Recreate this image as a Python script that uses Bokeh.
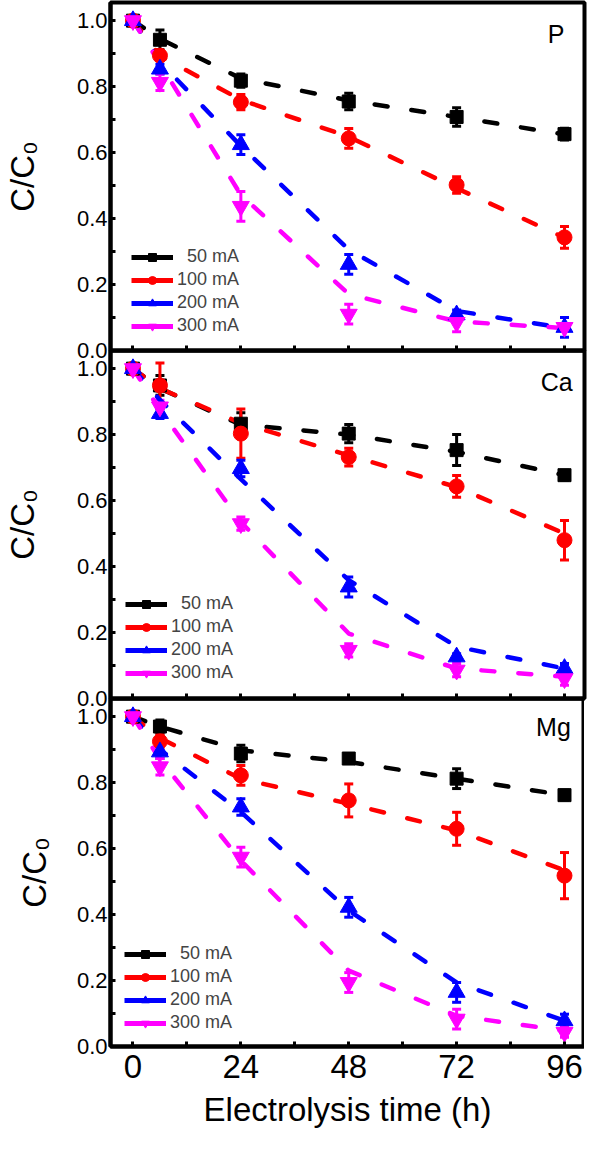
from bokeh.plotting import figure
from bokeh.models import (ColumnDataSource, FixedTicker, NumeralTickFormatter, Whisker,
                          TeeHead, Legend, LegendItem, Label, Range1d)
from bokeh.layouts import column
from bokeh.embed import file_html
from bokeh.resources import INLINE

FONT = "Liberation Sans"

hours = [0, 6, 24, 48, 72, 96]
currents = ["\u00a0\u00a050 mA", "100 mA", "200 mA", "300 mA"]
colors = ["#000000", "#ff0000", "#0000ff", "#ff00ff"]
markers = ["square", "circle", "triangle", "inverted_triangle"]
marker_sizes = [13, 15, 17, 17]
x_ticks = [0, 24, 48, 72, 96]
x_minor = [12, 36, 60, 84]
y_ticks = [0.0, 0.2, 0.4, 0.6, 0.8, 1.0]
y_minor = [0.1, 0.3, 0.5, 0.7, 0.9]

# ---- P ----
p_50 = [1.0, 0.942, 0.818, 0.755, 0.708, 0.656]
p_50_err = [0.0, 0.03, 0.02, 0.025, 0.028, 0.018]
p_50_fit = [1.0, 0.945, 0.825, 0.758, 0.708, 0.655]
p_100 = [1.0, 0.894, 0.753, 0.643, 0.502, 0.343]
p_100_err = [0.0, 0.015, 0.023, 0.03, 0.025, 0.033]
p_100_fit = [1.0, 0.893, 0.76, 0.648, 0.492, 0.342]
p_200 = [1.0, 0.853, 0.624, 0.261, 0.108, 0.07]
p_200_err = [0.0, 0.015, 0.03, 0.03, 0.015, 0.03]
p_200_fit = [1.0, 0.875, 0.62, 0.306, 0.12, 0.068]
p_300 = [1.0, 0.813, 0.437, 0.11, 0.085, 0.07]
p_300_err = [0.0, 0.025, 0.045, 0.03, 0.028, 0.01]
p_300_fit = [1.0, 0.87, 0.472, 0.171, 0.088, 0.068]

# ---- Ca ----
ca_50 = [1.0, 0.949, 0.833, 0.803, 0.753, 0.677]
ca_50_err = [0.0, 0.03, 0.033, 0.028, 0.047, 0.015]
ca_50_fit = [1.0, 0.94, 0.83, 0.8, 0.748, 0.677]
ca_100 = [1.0, 0.949, 0.803, 0.732, 0.643, 0.48]
ca_100_err = [0.0, 0.068, 0.075, 0.027, 0.033, 0.06]
ca_100_fit = [1.0, 0.94, 0.835, 0.737, 0.641, 0.5]
ca_200 = [1.0, 0.864, 0.697, 0.338, 0.126, 0.091]
ca_200_err = [0.0, 0.015, 0.025, 0.03, 0.01, 0.015]
ca_200_fit = [1.0, 0.905, 0.665, 0.359, 0.157, 0.091]
ca_300 = [1.0, 0.884, 0.53, 0.146, 0.086, 0.06]
ca_300_err = [0.0, 0.02, 0.02, 0.02, 0.02, 0.02]
ca_300_fit = [1.0, 0.875, 0.535, 0.197, 0.091, 0.066]

# ---- Mg ----
mg_50 = [1.0, 0.97, 0.888, 0.873, 0.812, 0.762]
mg_50_err = [0.0, 0.02, 0.025, 0.015, 0.03, 0.015]
mg_50_fit = [1.0, 0.97, 0.898, 0.863, 0.812, 0.762]
mg_100 = [1.0, 0.925, 0.822, 0.746, 0.66, 0.518]
mg_100_err = [0.0, 0.02, 0.03, 0.05, 0.05, 0.07]
mg_100_fit = [1.0, 0.935, 0.812, 0.736, 0.655, 0.534]
mg_200 = [1.0, 0.893, 0.726, 0.422, 0.164, 0.078]
mg_200_err = [0.0, 0.02, 0.025, 0.03, 0.03, 0.02]
mg_200_fit = [1.0, 0.9, 0.711, 0.412, 0.194, 0.078]
mg_300 = [1.0, 0.848, 0.574, 0.194, 0.083, 0.043]
mg_300_err = [0.0, 0.025, 0.03, 0.03, 0.03, 0.015]
mg_300_fit = [1.0, 0.87, 0.564, 0.23, 0.093, 0.048]

NAN = float("nan")
OVERLAP = 12


def make_panel(letter, means, errs, fits, bottom, first, legend_xy,
               ylab_standoff, letter_x, letter_y):
    kw = {}
    if not first:
        kw["margin"] = (-OVERLAP, 0, 0, 0)
    p = figure(frame_width=474, frame_height=348, output_backend="svg",
               toolbar_location=None, x_range=Range1d(-5.0, 100.45),
               y_range=Range1d(0, 1.055), min_border_left=107, min_border_right=3,
               min_border_top=(2 if first else 0),
               min_border_bottom=(0 if bottom else OVERLAP), **kw)
    p.grid.visible = False
    p.outline_line_color = "black"
    p.outline_line_width = 4
    p.outline_line_alpha = 1.0
    if not first:
        p.background_fill_alpha = 0
        p.border_fill_alpha = 0

    scatter_rs, dummy_rs = [], []
    for i in range(4):
        p.line(hours, fits[i], line_color=colors[i], line_width=4.5,
               line_dash="13 24", line_cap="round")
    for i in range(4):
        up = [m + e for m, e in zip(means[i], errs[i])]
        lo = [m - e for m, e in zip(means[i], errs[i])]
        src = ColumnDataSource(dict(x=hours, upper=up, lower=lo))
        w = Whisker(source=src, base="x", upper="upper", lower="lower",
                    line_color=colors[i], line_width=3,
                    upper_head=TeeHead(size=9, line_color=colors[i], line_width=3),
                    lower_head=TeeHead(size=9, line_color=colors[i], line_width=3))
        p.add_layout(w)
    for i in range(4):
        r = p.scatter(hours, means[i], marker=markers[i], size=marker_sizes[i],
                      fill_color=colors[i], line_color=colors[i])
        scatter_rs.append(r)
        d = p.line([NAN, NAN], [NAN, NAN], line_color=colors[i], line_width=5)
        dummy_rs.append(d)

    items = [LegendItem(label=currents[i], renderers=[dummy_rs[i], scatter_rs[i]])
             for i in range(4)]
    leg = Legend(items=items, location=legend_xy, glyph_width=42, glyph_height=20,
                 label_height=20, spacing=2, padding=0, margin=0, label_standoff=4,
                 label_text_font=FONT, label_text_font_size="18px",
                 border_line_color=None, background_fill_alpha=0)
    p.add_layout(leg)

    p.add_layout(Label(x=letter_x, y=letter_y, text=letter, text_align="right",
                       text_baseline="middle", text_font=FONT, text_font_size="25px",
                       text_color="black"))

    ya = p.yaxis[0]
    ya.ticker = FixedTicker(ticks=y_ticks, minor_ticks=y_minor)
    ya.formatter = NumeralTickFormatter(format="0.0")
    ya.major_label_text_font = FONT
    ya.major_label_text_font_size = "22px"
    ya.major_label_text_color = "black"
    ya.major_label_standoff = 3
    ya.major_tick_in = 5
    ya.major_tick_out = 0
    ya.minor_tick_in = 5
    ya.minor_tick_out = 0
    ya.major_tick_line_width = 3
    ya.minor_tick_line_width = 3
    ya.axis_line_width = 4
    ya.axis_label = "C/C\u2080"
    ya.axis_label_text_font = FONT
    ya.axis_label_text_font_size = "33px"
    ya.axis_label_text_font_style = "normal"
    ya.axis_label_text_color = "black"
    ya.axis_label_standoff = ylab_standoff

    xa = p.xaxis[0]
    xa.ticker = FixedTicker(ticks=x_ticks, minor_ticks=x_minor)
    xa.major_tick_in = 5
    xa.major_tick_out = 0
    xa.minor_tick_in = 5
    xa.minor_tick_out = 0
    xa.major_tick_line_width = 3
    xa.minor_tick_line_width = 3
    xa.axis_line_width = 4
    if bottom:
        xa.major_label_text_font = FONT
        xa.major_label_text_font_size = "33px"
        xa.major_label_text_color = "black"
        xa.major_label_standoff = 8
        xa.axis_label = "Electrolysis time (h)"
        xa.axis_label_text_font = FONT
        xa.axis_label_text_font_size = "33px"
        xa.axis_label_text_font_style = "normal"
        xa.axis_label_text_color = "black"
        xa.axis_label_standoff = 10
    else:
        xa.major_label_text_font_size = "0px"
        xa.major_label_text_color = None
        xa.major_label_standoff = 0
        xa.axis_label = None
    return p


p1 = make_panel("P", [p_50, p_100, p_200, p_300],
                [p_50_err, p_100_err, p_200_err, p_300_err],
                [p_50_fit, p_100_fit, p_200_fit, p_300_fit],
                False, True, (21, 14), 33, 96.0, 0.96)
p2 = make_panel("Ca", [ca_50, ca_100, ca_200, ca_300],
                [ca_50_err, ca_100_err, ca_200_err, ca_300_err],
                [ca_50_fit, ca_100_fit, ca_200_fit, ca_300_fit],
                False, False, (15, 15), 33, 97.8, 0.96)
p3 = make_panel("Mg", [mg_50, mg_100, mg_200, mg_300],
                [mg_50_err, mg_100_err, mg_200_err, mg_300_err],
                [mg_50_fit, mg_100_fit, mg_200_fit, mg_300_fit],
                True, False, (14, 13), 21, 97.4, 0.97)

layout = column(p1, p2, p3, spacing=0)
open("out.html", "w").write(file_html(layout, INLINE))
